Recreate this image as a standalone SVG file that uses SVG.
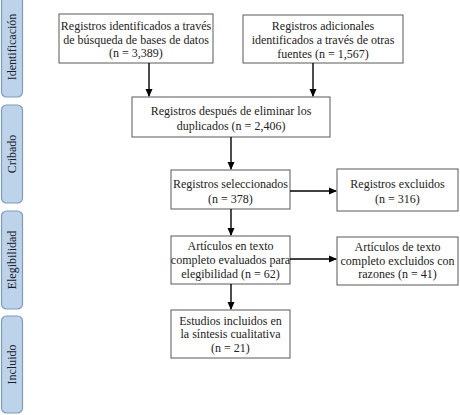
<svg xmlns="http://www.w3.org/2000/svg" width="460" height="415" viewBox="0 0 460 415">
<defs>
<marker id="ah" markerWidth="8" markerHeight="8" refX="7" refY="4" orient="auto" markerUnits="userSpaceOnUse">
<path d="M0,0.5 L8,4 L0,7.5 Z" fill="#000"/>
</marker>
</defs>
<style>
.box{fill:#fff;stroke:#595959;stroke-width:1}
.t{font-family:"Liberation Serif","Times New Roman",serif;font-size:12px;fill:#222;text-anchor:middle}
.side{fill:#bdd3ea;stroke:#7d9cbd;stroke-width:1.2}
.st{font-family:"Liberation Serif","Times New Roman",serif;font-size:12px;fill:#17202c;text-anchor:middle}
.c{stroke:#000;stroke-width:1.4;fill:none;marker-end:url(#ah)}
</style>
<rect width="460" height="415" fill="#fff"/>
<g id="phase-identificacion">
<rect class="side" x="1.5" y="-4" width="21" height="101" rx="5"/>
<text class="st" transform="translate(16,47) rotate(-90)">Identificación</text>
</g>
<g id="phase-cribado">
<rect class="side" x="1.5" y="105" width="21" height="98" rx="5"/>
<text class="st" transform="translate(16,154) rotate(-90)">Cribado</text>
</g>
<g id="phase-elegibilidad">
<rect class="side" x="1.5" y="211" width="21" height="98" rx="5"/>
<text class="st" transform="translate(16,260) rotate(-90)">Elegibilidad</text>
</g>
<g id="phase-incluido">
<rect class="side" x="1.5" y="316" width="21" height="97" rx="5"/>
<text class="st" transform="translate(16,364.5) rotate(-90)">Incluido</text>
</g>
<g id="n1">
<rect class="box" x="59" y="14" width="154" height="49"/>
<text class="t" x="136" y="30">Registros identificados a través</text>
<text class="t" x="136" y="43.5">de búsqueda de bases de datos</text>
<text class="t" x="136" y="57">(n = 3,389)</text>
</g>
<g id="n2">
<rect class="box" x="243" y="15" width="160" height="48"/>
<text class="t" x="323" y="29.5">Registros adicionales</text>
<text class="t" x="323" y="44">identificados a través de otras</text>
<text class="t" x="323" y="58">fuentes (n = 1,567)</text>
</g>
<g id="n3">
<rect class="box" x="132" y="97" width="198" height="40"/>
<text class="t" x="231" y="115">Registros después de eliminar los</text>
<text class="t" x="231" y="129.5">duplicados (n = 2,406)</text>
</g>
<g id="n4">
<rect class="box" x="171" y="170" width="119" height="39"/>
<text class="t" x="230.5" y="188">Registros seleccionados</text>
<text class="t" x="230.5" y="203">(n = 378)</text>
</g>
<g id="n5">
<rect class="box" x="337" y="169" width="121" height="42"/>
<text class="t" x="397.5" y="188">Registros excluidos</text>
<text class="t" x="397.5" y="203">(n = 316)</text>
</g>
<g id="n6">
<rect class="box" x="171" y="236" width="119" height="48"/>
<text class="t" x="230.5" y="250">Artículos en texto</text>
<text class="t" x="230.5" y="264">completo evaluados para</text>
<text class="t" x="230.5" y="277.5">elegibilidad (n = 62)</text>
</g>
<g id="n7">
<rect class="box" x="337" y="237" width="121" height="48"/>
<text class="t" x="397.5" y="251">Artículos de texto</text>
<text class="t" x="397.5" y="265">completo excluidos con</text>
<text class="t" x="397.5" y="278">razones (n = 41)</text>
</g>
<g id="n8">
<rect class="box" x="171" y="310" width="119" height="48"/>
<text class="t" x="230.5" y="324.5">Estudios incluidos en</text>
<text class="t" x="230.5" y="338">la síntesis cualitativa</text>
<text class="t" x="230.5" y="352">(n = 21)</text>
</g>
<g id="connectors">
<line class="c" x1="149" y1="63" x2="149" y2="96"/>
<line class="c" x1="313" y1="63" x2="313" y2="96"/>
<line class="c" x1="231" y1="137" x2="231" y2="169"/>
<line class="c" x1="290" y1="191" x2="336" y2="191"/>
<line class="c" x1="231" y1="209" x2="231" y2="235"/>
<line class="c" x1="290" y1="259" x2="336" y2="259"/>
<line class="c" x1="231" y1="284" x2="231" y2="309"/>
</g>
</svg>
